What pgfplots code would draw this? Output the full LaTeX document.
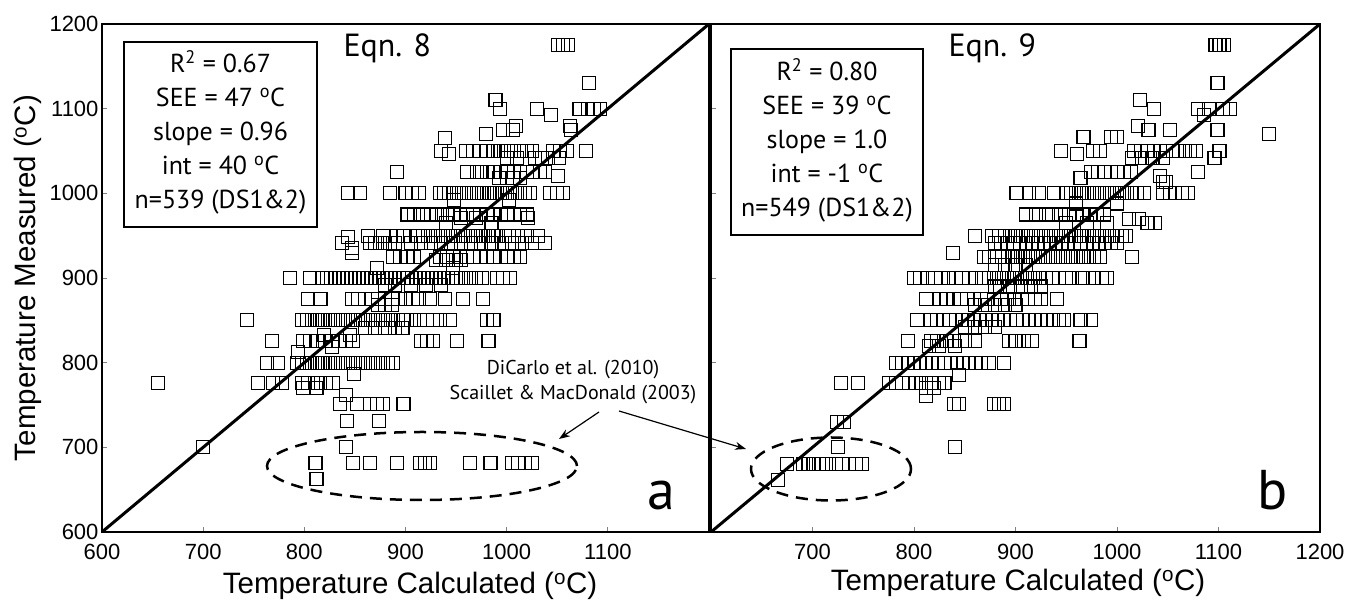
\documentclass[border=0pt]{standalone}
\usepackage{pgfplots}
\pgfplotsset{compat=1.18}
\usepackage{fontspec}
\setmainfont{Liberation Sans}
\newfontfamily\myr{PT Sans}
\usetikzlibrary{arrows.meta}
\begin{document}
\begin{tikzpicture}
\path[use as bounding box] (0pt,0pt) rectangle (1356pt,601pt);
\pgfplotsset{
 common/.style={
  scale only axis, anchor=south west, height=508pt,
  xmin=600,xmax=1200,ymin=600,ymax=1200,
  axis line style={line width=2.5pt},
  tick align=inside, tick pos=left, major tick length=5pt,
  every tick/.style={gray, line width=0.8pt},
  tick label style={font=\fontsize{22}{26}\selectfont},
  xticklabel style={yshift=-9pt},
  /pgf/number format/assume math mode=true,
  /pgf/number format/set thousands separator={},
  clip mode=individual,
 },
 pts/.style={only marks, mark=square, mark size=6.5pt, black, line width=1.1pt},
}
\begin{axis}[common, at={(102pt,69pt)}, width=607pt, xtick={600,700,...,1100}, ytick={600,700,...,1200}]
\addplot[pts] coordinates {
(1051,1175)(1056,1175)(1061,1175)
(1081,1130)
(989,1110)
(993,1100)(1030,1100)(1072,1100)(1080,1100)(1086,1100)(1092,1100)
(1044,1092)
(1009,1080)(1063,1080)
(996,1075)(1006,1075)(1064,1075)
(980,1070)
(939,1065)
(935,1050)(960,1050)(967,1050)(974,1050)(981,1050)(987,1050)(991,1050)(994,1050)(997,1050)(1001,1050)(1004,1050)(1007,1050)(1014,1050)(1020,1050)(1025,1050)(1046,1050)(1053,1050)(1060,1050)(1078,1050)
(943,1046)
(1000,1042)(1010,1042)(1028,1042)(1035,1042)(1041,1042)(1052,1042)
(892,1025)(961,1025)(971,1025)(976,1025)(981,1025)(987,1025)(994,1025)(1001,1025)(1007,1025)(1013,1025)(1020,1025)(1026,1025)(1033,1025)(1038,1025)
(1051,1020)
(992,1018)(1000,1018)(1006,1018)(1013,1018)
(843,1000)(855,1000)(885,1000)(900,1000)(906,1000)(913,1000)(934,1000)(938,1000)(943,1000)(948,1000)(953,1000)(958,1000)(963,1000)(968,1000)(973,1000)(978,1000)(983,1000)(988,1000)(993,1000)(998,1000)(1003,1000)(1008,1000)(1013,1000)(1018,1000)(1023,1000)(1043,1000)(1050,1000)(1056,1000)
(948,992)(1002,992)
(902,975)(908,975)(917,975)(925,975)(931,975)(936,975)(942,975)(947,975)(954,975)(961,975)(967,975)(974,975)(981,975)(987,975)(994,975)(1001,975)(1007,975)(1013,975)(1020,975)
(955,971)(970,971)(1021,971)
(940,965)(985,965)
(863,950)(878,950)(892,950)(898,950)(912,950)(917,950)(922,950)(927,950)(932,950)(937,950)(942,950)(947,950)(952,950)(957,950)(962,950)(967,950)(972,950)(977,950)(982,950)(987,950)(991,950)(1002,950)(1011,950)(1020,950)(1031,950)
(843,948)
(837,941)(865,941)(870,941)(875,941)(880,941)(885,941)(890,941)(905,941)(915,941)(925,941)(935,941)(945,941)(955,941)(965,941)(975,941)(985,941)(995,941)(1005,941)(1015,941)(1025,941)(1038,941)
(847,935)
(888,925)(895,925)(902,925)(908,925)(934,925)(941,925)(947,925)(961,925)(967,925)(974,925)(981,925)(987,925)(1001,925)(1007,925)(1013,925)
(847,929)
(930,921)(940,921)(950,921)(955,921)
(872,912)(947,912)
(786,900)(806,900)(818,900)(822,900)(826,900)(830,900)(834,900)(838,900)(842,900)(846,900)(850,900)(854,900)(858,900)(862,900)(866,900)(870,900)(874,900)(878,900)(882,900)(886,900)(890,900)(894,900)(898,900)(902,900)(906,900)(910,900)(914,900)(918,900)(922,900)(926,900)(930,900)(934,900)(938,900)(942,900)(946,900)(950,900)(955,900)(960,900)(965,900)(970,900)(976,900)(990,900)(996,900)(1003,900)
(880,892)(890,892)(905,892)(920,892)(935,892)
(804,875)(816,875)(847,875)(853,875)(860,875)(867,875)(873,875)(880,875)(887,875)(893,875)(900,875)(907,875)(913,875)(924,875)(939,875)(957,875)(977,875)
(873,868)(880,868)(887,868)
(743,850)(798,850)(803,850)(808,850)(813,850)(818,850)(823,850)(828,850)(833,850)(838,850)(843,850)(848,850)(853,850)(858,850)(863,850)(868,850)(873,850)(878,850)(883,850)(888,850)(893,850)(898,850)(905,850)(914,850)(921,850)(927,850)(934,850)(944,850)(981,850)(987,850)
(860,841)(870,841)(880,841)(890,841)(897,841)
(819,833)(845,833)
(768,826)(799,826)(806,826)(813,826)(820,826)(827,826)(834,826)(841,826)(848,826)(915,826)(921,826)(927,826)(951,826)(982,826)
(827,818)(794,813)
(763,800)(774,800)(793,800)(798,800)(803,800)(808,800)(813,800)(818,800)(823,800)(828,800)(833,800)(838,800)(843,800)(848,800)(853,800)(858,800)(863,800)(868,800)(873,800)(878,800)(883,800)(888,800)
(849,787)
(655,776)(754,776)(769,776)(778,776)(798,776)(804,776)(813,776)(821,776)(828,776)
(799,770)(812,770)
(841,762)
(835,751)(852,751)(865,751)(872,751)(878,751)(898,751)
(842,731)(874,731)
(700,700)(841,700)
(811,681)(848,681)(865,681)(892,681)(914,681)(919,681)(924,681)(964,681)(984,681)(1005,681)(1011,681)(1018,681)(1025,681)
(812,663)
};
\addplot[black, line width=3pt] coordinates {(600,600) (1200,1200)};
\end{axis}
\begin{axis}[common, at={(711pt,69pt)}, width=609pt, xtick={700,800,...,1200}, ytick={700,800,...,1100}, yticklabels={}]
\addplot[pts] coordinates {
(1097,1175)(1101,1175)(1105,1175)
(1099,1130)
(1023,1110)
(1036,1100)(1080,1100)(1091,1100)(1104,1100)(1111,1100)
(1086,1092)
(1021,1080)
(1031,1075)(1052,1075)(1099,1075)(1150,1070)
(967,1066)(994,1067)(1000,1067)
(945,1050)(976,1050)(983,1050)(1017,1050)(1024,1050)(1030,1050)(1036,1050)(1042,1050)(1048,1050)(1055,1050)(1061,1050)(1067,1050)(1072,1050)(1078,1050)(1101,1050)
(961,1046)
(1015,1042)(1025,1042)(1035,1042)(1045,1042)(1096,1042)
(974,1025)(981,1025)(988,1025)(994,1025)(1000,1025)(1007,1025)(1014,1025)(1080,1025)
(964,1018)(1042,1020)
(1045,1013)(1048,1013)
(901,1000)(913,1000)(923,1000)(938,1000)(950,1000)(955,1000)(960,1000)(965,1000)(970,1000)(975,1000)(980,1000)(985,1000)(990,1000)(995,1000)(1000,1000)(1005,1000)(1010,1000)(1015,1000)(1020,1000)(1027,1000)(1045,1000)(1052,1000)(1057,1000)(1064,1000)(1070,1000)
(960,988)(1000,988)
(910,975)(920,975)(930,975)(936,975)(945,975)(953,975)(960,975)(966,975)(973,975)(980,975)(987,975)
(1012,970)(1022,970)
(950,965)(970,965)(990,965)(1030,965)(1037,965)
(860,950)(877,950)(884,950)(890,950)(895,950)(900,950)(905,950)(910,950)(915,950)(920,950)(925,950)(930,950)(935,950)(940,950)(945,950)(950,950)(955,950)(960,950)(965,950)(970,950)(975,950)(980,950)(985,950)(990,950)(995,950)(1000,950)(1005,950)(1009,950)
(880,941)(886,941)(892,941)(898,941)(904,941)(910,941)(916,941)(922,941)(928,941)(934,941)(940,941)(946,941)(952,941)(958,941)(964,941)(970,941)(976,941)(982,941)(988,941)(994,941)(1000,941)
(838,930)
(869,925)(874,925)(880,925)(887,925)(893,925)(897,925)(902,925)(907,925)(912,925)(917,925)(922,925)(927,925)(932,925)(937,925)(942,925)(947,925)(952,925)(957,925)(962,925)(967,925)(972,925)(977,925)(983,925)(1015,925)
(880,915)(890,915)(900,915)(910,915)
(800,900)(806,900)(814,900)(821,900)(827,900)(834,900)(841,900)(847,900)(854,900)(861,900)(869,900)(874,900)(879,900)(884,900)(889,900)(894,900)(899,900)(904,900)(909,900)(914,900)(919,900)(924,900)(930,900)(936,900)(943,900)(950,900)(956,900)(966,900)(976,900)(985,900)(990,900)
(880,890)(885,890)(895,890)(905,890)(915,890)(925,890)
(812,875)(826,875)(832,875)(839,875)(846,875)(852,875)(859,875)(866,875)(872,875)(879,875)(886,875)(892,875)(899,875)(906,875)(912,875)(919,875)(925,875)(941,875)
(860,868)(870,868)(880,868)(890,868)(900,868)
(803,850)(817,850)(823,850)(829,850)(835,850)(841,850)(847,850)(853,850)(859,850)(865,850)(871,850)(877,850)(883,850)(889,850)(895,850)(901,850)(907,850)(913,850)(919,850)(925,850)(931,850)(937,850)(943,850)(948,850)(964,850)(974,850)
(850,842)(860,842)(870,842)(880,842)
(794,826)(817,826)(823,826)(832,826)(839,826)(850,826)(860,826)(894,826)(900,826)(908,826)(916,826)(963,826)
(815,820)(825,820)(840,820)
(782,800)(788,800)(794,800)(800,800)(806,800)(812,800)(818,800)(824,800)(830,800)(836,800)(842,800)(848,800)(854,800)(860,800)(866,800)(874,800)(889,800)
(844,785)
(728,776)(745,776)(775,776)(782,776)(788,776)(795,776)(802,776)(807,776)(812,776)(818,776)(825,776)(830,776)
(812,770)(820,770)
(812,761)
(839,751)(844,751)(879,751)(884,751)(889,751)
(724,730)(731,730)
(725,700)(840,700)
(675,680)(691,680)(696,680)(701,680)(706,680)(713,680)(723,680)(729,680)(736,680)(743,680)(749,680)
(666,661)
};
\addplot[black, line width=3pt] coordinates {(600,600) (1200,1200)};
\end{axis}
% axis labels
\node[rotate=90, font=\fontsize{29.5}{32}\selectfont] at (28pt,323pt) {Temperature Measured (\textsuperscript{o}C)};
\node[anchor=base, font=\fontsize{29.5}{32}\selectfont] at (410pt,7pt) {Temperature Calculated (\textsuperscript{o}C)};
\node[anchor=base, font=\fontsize{29.5}{32}\selectfont] at (1018pt,10pt) {Temperature Calculated (\textsuperscript{o}C)};
% stat boxes
\node[draw, line width=2.5pt, minimum width=193pt, minimum height=185pt, fill=white] at (220.5pt,466.5pt) {};
\node[align=center, font=\myr\fontsize{26}{34}\selectfont] at (220.5pt,468.5pt) {R\textsuperscript{2} = 0.67\\SEE = 47 \textsuperscript{o}C\\slope = 0.96\\int = 40 \textsuperscript{o}C\\n=539 (DS1\&2)};
\node[draw, line width=2.5pt, minimum width=192pt, minimum height=186pt, fill=white] at (827pt,459pt) {};
\node[align=center, font=\myr\fontsize{26}{34}\selectfont] at (827pt,460.5pt) {R\textsuperscript{2} = 0.80\\SEE = 39 \textsuperscript{o}C\\slope = 1.0\\int = -1 \textsuperscript{o}C\\n=549 (DS1\&2)};
\node[anchor=base west, font=\myr\fontsize{32}{36}\selectfont] at (340pt,544pt) {Eqn. 8};
\node[anchor=base west, font=\myr\fontsize{32}{36}\selectfont] at (945pt,544pt) {Eqn. 9};
\node[anchor=base, font=\myr\fontsize{56}{60}\selectfont] at (661pt,91pt) {a};
\node[anchor=base, font=\myr\fontsize{56}{60}\selectfont] at (1273pt,91pt) {b};
% annotation
\draw[dash pattern=on 12pt off 8pt, line width=2.5pt] (422pt,135pt) ellipse [x radius=155pt, y radius=34pt];
\draw[dash pattern=on 12pt off 8pt, line width=2.5pt] (831pt,132pt) ellipse [x radius=80pt, y radius=31.5pt];
\node[align=center, font=\myr\fontsize{20}{25}\selectfont] at (573pt,218.5pt) {DiCarlo et al. (2010)\\Scaillet \& MacDonald (2003)};
\draw[-{Stealth[length=11pt,width=8pt]}, line width=1.2pt] (599pt,189pt) -- (559pt,162pt);
\draw[-{Stealth[length=11pt,width=8pt]}, line width=1.2pt] (619pt,190pt) -- (746pt,152pt);
\end{tikzpicture}
\end{document}
